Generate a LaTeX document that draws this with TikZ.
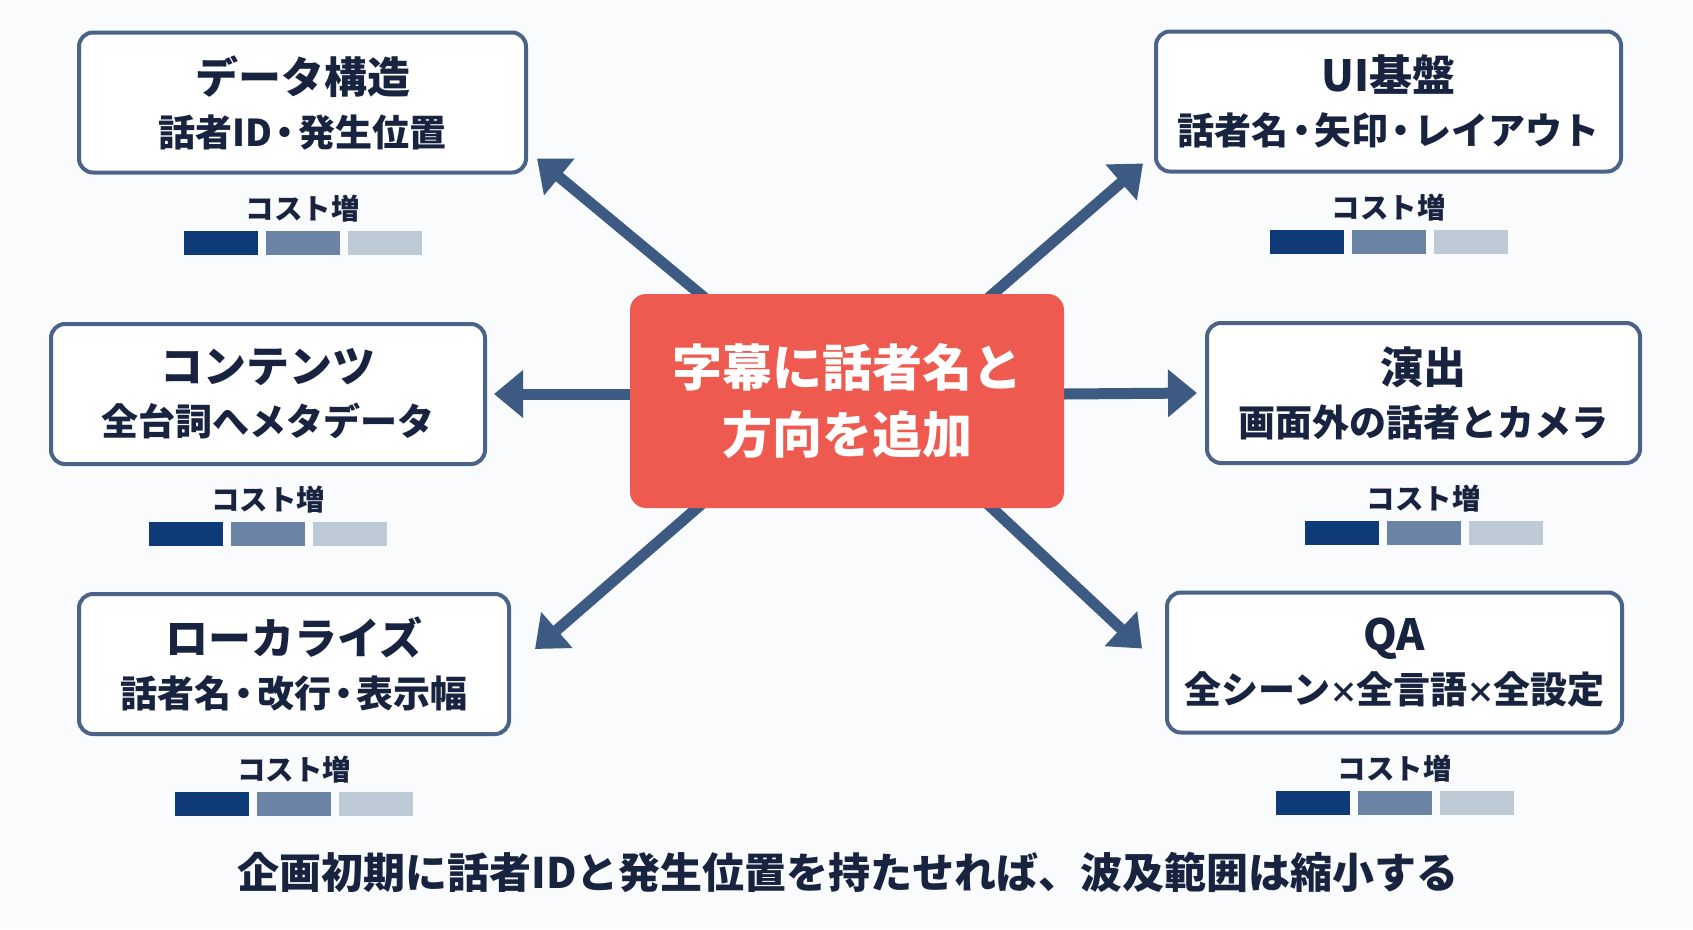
\documentclass[tikz,border=0pt]{standalone}
\usepackage{fontspec}
\setmainfont{Noto Sans CJK JP}
\usetikzlibrary{arrows.meta}
\pgfdeclarelayer{bg}
\pgfsetlayers{bg,main}
\definecolor{ink}{HTML}{18233F}
\definecolor{frame}{HTML}{4B6388}
\definecolor{arrowc}{HTML}{3D5A82}
\definecolor{hubred}{HTML}{EE5A4F}
\definecolor{barA}{HTML}{0F3A78}
\definecolor{barB}{HTML}{6B83A4}
\definecolor{barC}{HTML}{BFCAD7}
\definecolor{paper}{HTML}{FAFBFC}
\newcommand\boxlines[2]{{\fontsize{43}{53}\selectfont #1}\\{\fontsize{37}{53}\selectfont #2}}
\newcommand\nakaguro{\makebox[0.7em][c]{・}}
\newcommand\kakeru{\makebox[0.7em][c]{\fontsize{29}{29}\selectfont ×}}

\begin{document}
\begin{tikzpicture}[x=1pt, y=-1pt,
	box/.style={draw=frame, line width=4pt, rounded corners=14pt, fill=white, text=ink, align=center, inner sep=0pt, minimum height=140pt, font=\bfseries\fontsize{37}{53}\selectfont},
	hub/.style={fill=hubred, rounded corners=16pt, text=white, align=center, inner sep=0pt, minimum width=434pt, minimum height=214pt, font=\bfseries\fontsize{50}{67}\selectfont},
	cost/.style={text=ink, inner sep=0pt, font=\bfseries\fontsize{28.5}{28.5}\selectfont},
	bar/.style={minimum width=74pt, minimum height=24pt, inner sep=0pt},
	arr/.style={draw=arrowc, line width=11pt, shorten <=-24pt, -{Triangle[length=29pt, width=46pt]}}]
	\begin{pgfonlayer}{bg}
	\fill[paper] (0,0) rectangle (1693,929);
	\end{pgfonlayer}
	\node[hub] (H) at (847,401) {字幕に話者名と\\方向を追加};
	\node[box, minimum width=447pt] (d1) at (302.5,102.5) {\boxlines{データ構造}{話者ID\nakaguro 発生位置}};
	\node[box, minimum width=465pt] (d2) at (1388.5,101.5) {\boxlines{UI基盤}{話者名\nakaguro 矢印\nakaguro レイアウト}};
	\node[box, minimum width=434pt] (d3) at (268,394) {\boxlines{コンテンツ}{全台詞へメタデータ}};
	\node[box, minimum width=433pt] (d4) at (1423.5,393) {\boxlines{演出}{画面外の話者とカメラ}};
	\node[box, minimum width=430pt] (d5) at (294,664) {\boxlines{ローカライズ}{話者名\nakaguro 改行\nakaguro 表示幅}};
	\node[box, minimum width=455pt] (d6) at (1394.5,662.5) {\boxlines{QA}{全シーン\kakeru 全言語\kakeru 全設定}};
	\foreach \i in {1,...,6} {
		\node[cost] (k\i) at ([yshift=-34pt]d\i.south) {コスト増};
		\node[bar, fill=barA] (k\i-a) at ([shift={(-82pt,-68pt)}]d\i.south) {};
		\node[bar, fill=barB] (k\i-b) at ([yshift=-68pt]d\i.south) {};
		\node[bar, fill=barC] (k\i-c) at ([shift={(82pt,-68pt)}]d\i.south) {};
	}
	\begin{pgfonlayer}{bg}
	\draw[arr] ([xshift=70pt]H.north west) -- ([shift={(9pt,16pt)}]d1.south east);
	\draw[arr] ([xshift=-71pt]H.north east) -- ([shift={(-11pt,10pt)}]d2.south west);
	\draw[arr] ([yshift=7pt]H.west) -- ([xshift=7pt]d3.east);
	\draw[arr] ([yshift=7pt]H.east) -- ([xshift=-8pt]d4.west);
	\draw[arr] ([xshift=67pt]H.south west) -- ([shift={(24pt,-57pt)}]d5.north east);
	\draw[arr] ([xshift=-72pt]H.south east) -- ([shift={(-23pt,-58pt)}]d6.north west);
	\end{pgfonlayer}
	\node[text=ink, font=\bfseries\fontsize{42}{42}\selectfont] (note) at (848,872) {企画初期に話者IDと発生位置を持たせれば、波及範囲は縮小する};
\end{tikzpicture}
\end{document}
